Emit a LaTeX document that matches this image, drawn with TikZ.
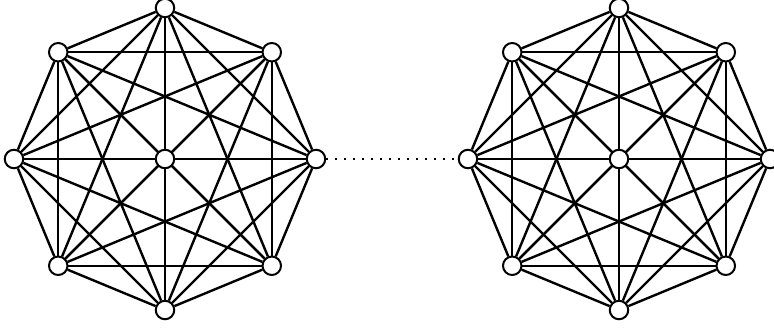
\documentclass[tikz,border=0pt]{standalone}
\usetikzlibrary{backgrounds}
\begin{document}
\begin{tikzpicture}[x=1pt,y=-1pt,
  vtx/.style={circle,draw,fill=white,line width=2pt,minimum size=18.5pt,inner sep=0pt},
  edge/.style={line width=2.4pt},
  link/.style={line width=2pt,dash pattern=on 2pt off 7pt}]
\useasboundingbox (0,0) rectangle (774,331);
\foreach \g/\cx in {L/165,R/619} {
  \node[vtx] (\g c) at (\cx,159) {};
  \foreach \i in {0,...,7} {
    \pgfmathsetmacro{\px}{\cx+151*cos(\i*45)}
    \pgfmathsetmacro{\py}{159-151*sin(\i*45)}
    \node[vtx] (\g\i) at (\px,\py) {};
  }
}
\begin{scope}[on background layer]
\foreach \g in {L,R} {
  \foreach \i in {0,...,7} {
    \draw[edge] (\g c) -- (\g\i);
    \foreach \j in {0,...,7} {
      \ifnum\j>\i \draw[edge] (\g\i) -- (\g\j);\fi
    }
  }
}
\draw[link] (L0) -- (R4);
\end{scope}
\end{tikzpicture}
\end{document}
